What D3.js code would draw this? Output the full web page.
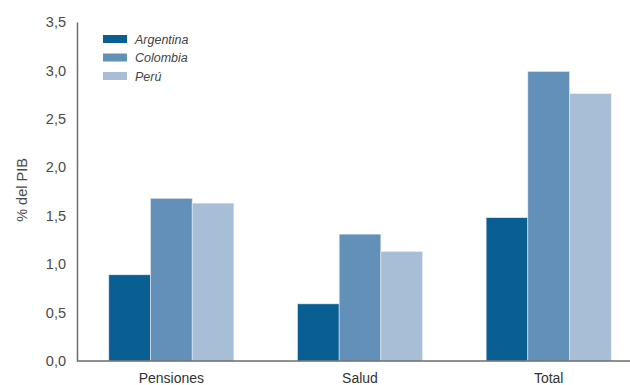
<!DOCTYPE html>
<html>
<head>
<meta charset="utf-8">
<script src="https://cdn.jsdelivr.net/npm/d3@7"></script>
<style>
  html, body { margin: 0; padding: 0; background: #fff; }
  svg { display: block; font-family: "Liberation Sans", Arial, sans-serif; }
</style>
</head>
<body>
<svg id="chart" width="630" height="385"></svg>
<script>
// Gasto público en % del PIB por rubro y país
const categories = ["Pensiones", "Salud", "Total"];
const countries = ["Argentina", "Colombia", "Perú"];
const argentina = [0.89, 0.59, 1.48];
const colombia = [1.68, 1.31, 2.99];
const peru = [1.63, 1.13, 2.76];
const yTicks = [0, 0.5, 1, 1.5, 2, 2.5, 3, 3.5];
const colors = ["#0a5f92", "#6390b8", "#a8bdd6"];

const seriesValues = [argentina, colombia, peru];

const svg = d3.select("#chart");
const plotLeft = 77, plotRight = 643, plotTop = 22, plotBottom = 361;

const x = d3.scaleBand().domain(categories).range([plotLeft, plotRight])
  .paddingInner(0.337).paddingOuter(0.1685);
const xs = d3.scaleBand().domain(countries).range([0, x.bandwidth()]);
const y = d3.scaleLinear().domain([0, 3.5]).range([plotBottom, plotTop]);

// Barras agrupadas
const groups = svg.append("g").selectAll("g")
  .data(categories)
  .join("g")
  .attr("transform", d => `translate(${x(d)},0)`);

groups.selectAll("rect")
  .data((d, i) => countries.map((c, j) => ({ country: c, value: seriesValues[j][i], j })))
  .join("rect")
  .attr("x", d => xs(d.country))
  .attr("width", xs.bandwidth())
  .attr("y", d => y(d.value))
  .attr("height", d => y(0) - y(d.value))
  .attr("fill", d => colors[d.j])
  .attr("stroke", "#e6ecf3")
  .attr("stroke-width", 0.6);

// Eje Y
const yAxis = d3.axisLeft(y).tickValues(yTicks).tickSize(0).tickPadding(11)
  .tickFormat(d => d3.format(".1f")(d).replace(".", ","));
const gy = svg.append("g").attr("transform", `translate(${plotLeft},0)`).call(yAxis);
gy.select(".domain").attr("stroke", "#6b6b6b").attr("stroke-width", 1.5);
gy.selectAll("text").attr("font-size", 14.5).attr("fill", "#4a4a4a")
  .attr("font-family", "'Liberation Sans', Arial, sans-serif");

// Eje X
const xAxis = d3.axisBottom(x).tickSize(0).tickPadding(12);
const gx = svg.append("g").attr("transform", `translate(0,${plotBottom})`).call(xAxis);
gx.select(".domain").attr("d", `M${plotLeft},0H630`).attr("stroke", "#6b6b6b").attr("stroke-width", 1.5);
gx.selectAll("text").attr("font-size", 14).attr("fill", "#333")
  .attr("font-family", "'Liberation Sans', Arial, sans-serif");

// Título del eje Y
svg.append("text")
  .attr("transform", "translate(27,190) rotate(-90)")
  .attr("text-anchor", "middle")
  .attr("font-size", 14.5)
  .attr("fill", "#4a4a4a")
  .text("% del PIB");

// Leyenda
const legend = svg.append("g").attr("transform", "translate(103,35)");
const item = legend.selectAll("g").data(countries).join("g")
  .attr("transform", (d, i) => `translate(0,${i * 18.5})`);
item.append("rect").attr("width", 24).attr("height", 8)
  .attr("fill", (d, i) => colors[i]);
item.append("text").attr("x", 32).attr("y", 8.5)
  .attr("font-size", 12.5).attr("font-style", "italic").attr("fill", "#444")
  .text(d => d);
</script>
</body>
</html>
